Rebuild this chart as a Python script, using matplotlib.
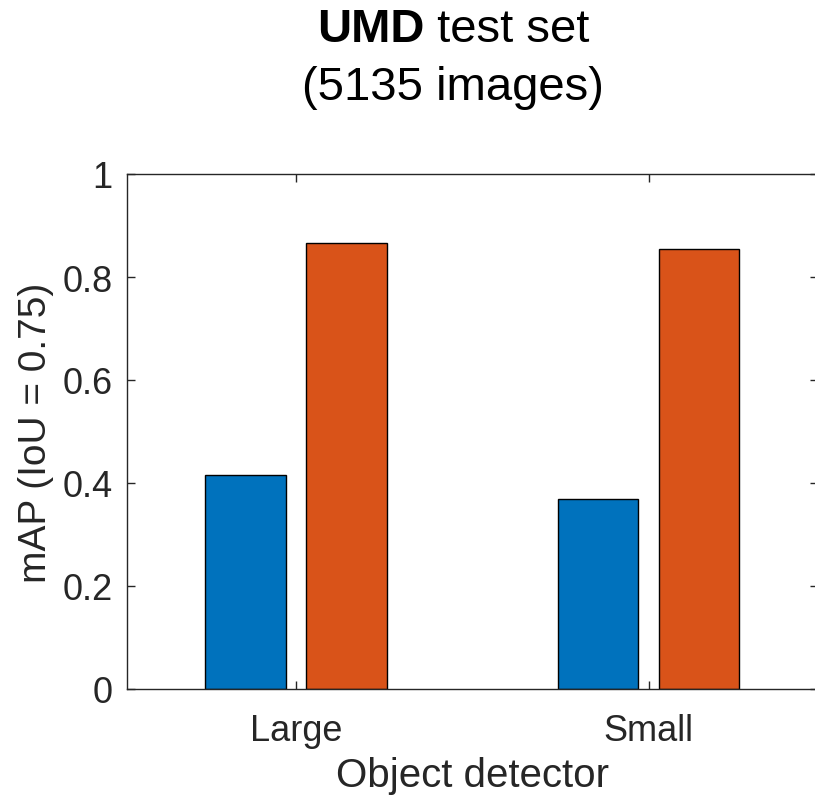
import matplotlib
matplotlib.use('Agg')
import matplotlib.pyplot as plt
import numpy as np

# donnees
categories = ['Large', 'Small']
serie_a = [0.4155, 0.369]
serie_b = [0.866, 0.8535]
yticks = [0, 0.2, 0.4, 0.6, 0.8, 1]

plt.rcParams['font.family'] = ['Liberation Sans', 'DejaVu Sans']
grey = '#262626'

fig = plt.figure(figsize=(8.15, 8.03), dpi=100)
ax = fig.add_axes([126.7 / 815, 1 - 690 / 803, (817.8 - 126.7) / 815, (690 - 175) / 803])

x = np.arange(1, len(categories) + 1)
w = 0.2286
off = 0.1429
ax.bar(x - off, serie_a, w, color='#0072BD', edgecolor='black', linewidth=1)
ax.bar(x + off, serie_b, w, color='#D95319', edgecolor='black', linewidth=1)

ax.set_xlim(0.52, 2.48)
ax.set_ylim(0, 1)
ax.set_xticks(x)
ax.set_xticklabels(categories)
ax.set_yticks(yticks)
ax.set_yticklabels(['0', '0.2', '0.4', '0.6', '0.8', '1'])
ax.tick_params(direction='in', length=6, width=1, color=grey, labelcolor=grey,
               labelsize=26, top=True, right=True)
ax.tick_params(axis='x', pad=17)
ax.tick_params(axis='y', pad=10)
for s in ax.spines.values():
    s.set_color(grey)
    s.set_linewidth(1)

ax.set_xlabel('Object detector', fontsize=29, color=grey, labelpad=6)
ax.set_ylabel('mAP (IoU = 0.75)', fontsize=28, color=grey, labelpad=6)

# titre sur deux lignes, "UMD" en gras
fig.canvas.draw()
r = fig.canvas.get_renderer()
cx = 453 / 815
t1 = fig.text(0, 1 - 42 / 803, 'UMD', fontsize=34, fontweight='bold', va='baseline')
t2 = fig.text(0, 1 - 42 / 803, ' test set', fontsize=34, va='baseline')
w1 = t1.get_window_extent(r).width
w2 = t2.get_window_extent(r).width
x0 = cx * 815 - (w1 + w2) / 2
t1.set_x(x0 / 815)
t2.set_x((x0 + w1) / 815)
fig.text(cx, 1 - 100 / 803, '(5135 images)', fontsize=34, ha='center', va='baseline')

plt.savefig('out.png', dpi=100)
